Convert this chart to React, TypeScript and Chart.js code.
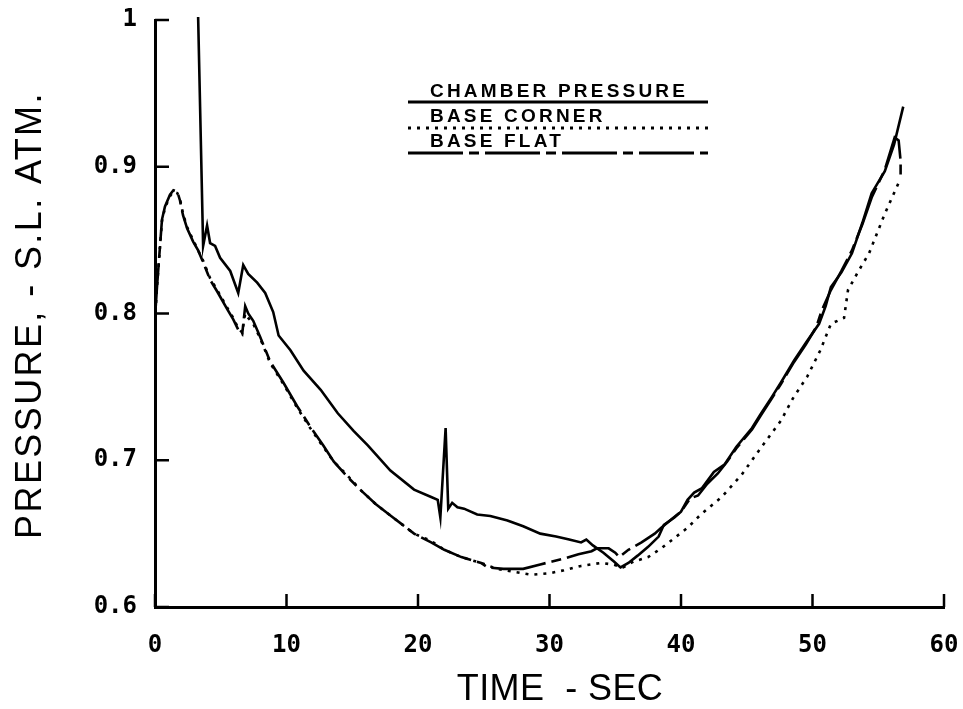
import React, { useEffect, useRef } from 'react';
import { Chart, registerables } from 'chart.js';

Chart.register(...registerables);

const seriesLabels = ['CHAMBER PRESSURE', 'BASE CORNER', 'BASE FLAT'];
const xTitle = 'TIME  - SEC';
const yTitle = 'PRESSURE, - S.L. ATM.';

const chamberTime = [
  3.28, 3.66, 3.96, 4.19, 4.57, 4.95, 5.72, 6.33, 6.71, 7.09, 7.77, 8.38, 8.99, 9.4,
  10.3, 11.3, 12.6, 13.9, 15.1, 16.2, 17.9, 19.7, 21.0, 21.5, 21.7, 22.1, 22.3, 22.6,
  23.0, 23.5, 24.5, 25.5, 26.8, 28.0, 29.3, 30.5, 31.5, 32.4, 32.8, 33.3, 34.1, 34.9,
  35.4, 36.0, 36.7, 37.5, 38.3, 38.7, 39.5, 40.0, 40.5, 41.0, 41.6, 42.5, 43.3, 44.2,
  45.4, 46.1, 46.9, 47.6, 48.6, 49.5, 50.5, 51.0, 51.4, 52.2, 53.0, 53.8, 54.5, 55.5,
  56.2, 56.9,
];
const chamberPressure = [
  1.002, 0.846, 0.86, 0.848, 0.846, 0.838, 0.829, 0.814, 0.833, 0.827, 0.821, 0.814, 0.801, 0.785,
  0.775, 0.761, 0.748, 0.732, 0.72, 0.71, 0.693, 0.68, 0.675, 0.673, 0.661, 0.722, 0.667, 0.671,
  0.668, 0.667, 0.663, 0.662, 0.659, 0.655, 0.65, 0.648, 0.646, 0.644, 0.646, 0.642, 0.637, 0.631,
  0.627, 0.63, 0.635, 0.641, 0.648, 0.656, 0.661, 0.665, 0.673, 0.678, 0.681, 0.692, 0.697, 0.709,
  0.722, 0.732, 0.743, 0.753, 0.768, 0.78, 0.793, 0.805, 0.818, 0.828, 0.841, 0.862, 0.882, 0.897,
  0.915, 0.941,
];

const cornerTime = [
  0, 0.15, 0.53, 0.76, 1.14, 1.4, 1.7, 1.9, 2.13, 2.44, 2.9, 3.28, 3.66, 4.19, 4.73, 5.49,
  5.95, 6.33, 6.63, 6.86, 7.09, 7.47, 8.0, 8.77, 9.76, 10.8, 11.8, 12.8, 13.6, 14.6, 15.6,
  16.8, 18.1, 19.7, 21.0, 22.0, 23.3, 24.8, 26.0, 27.3, 28.6, 30.0, 31.1, 32.4, 33.9, 34.8,
  35.6, 36.4, 37.5, 38.5, 39.5, 40.5, 41.5, 43.1, 44.6, 46.2, 47.6, 48.5, 49.6, 50.6, 51.4,
  52.4, 52.7, 53.5, 54.3, 55.5, 56.6,
];
const cornerPressure = [
  0.795, 0.818, 0.863, 0.872, 0.88, 0.883, 0.882, 0.878, 0.868, 0.859, 0.85, 0.843, 0.836, 0.824, 0.816, 0.804,
  0.797, 0.79, 0.787, 0.8, 0.797, 0.793, 0.783, 0.766, 0.752, 0.736, 0.722, 0.709, 0.699, 0.69, 0.68,
  0.67, 0.661, 0.65, 0.645, 0.639, 0.634, 0.63, 0.626, 0.624, 0.622, 0.623, 0.625, 0.628, 0.63, 0.629,
  0.627, 0.631, 0.634, 0.64, 0.647, 0.654, 0.663, 0.675, 0.69, 0.71, 0.727, 0.742, 0.757, 0.775, 0.793,
  0.797, 0.816, 0.829, 0.841, 0.868, 0.89,
];

const flatTime = [
  0, 0.15, 0.53, 0.76, 1.14, 1.4, 1.7, 1.9, 2.13, 2.44, 2.9, 3.28, 3.66, 4.19, 4.73, 5.49,
  5.95, 6.33, 6.63, 6.86, 7.09, 7.47, 8.0, 8.77, 9.76, 10.8, 11.8, 12.8, 13.6, 14.6, 15.6,
  16.8, 18.1, 19.7, 21.0, 22.0, 23.3, 24.8, 25.3, 26.5, 28.0, 29.3, 30.2, 31.1, 32.2, 33.2,
  33.6, 34.5, 35.0, 35.3, 36.0, 37.0, 38.0, 38.5, 39.3, 40.0, 40.7, 41.3, 42.0, 42.8, 43.5,
  44.2, 45.4, 46.1, 46.9, 47.6, 48.6, 49.5, 50.3, 50.7, 51.4, 52.2, 53.0, 53.8, 54.5, 55.5,
  56.25, 56.55, 56.7, 56.7,
];
const flatPressure = [
  0.797, 0.818, 0.864, 0.873, 0.881, 0.884, 0.883, 0.877, 0.867, 0.858, 0.849, 0.843, 0.835, 0.823, 0.815, 0.803,
  0.796, 0.789, 0.786, 0.805, 0.8, 0.795, 0.784, 0.767, 0.753, 0.737, 0.723, 0.71, 0.699, 0.689, 0.68,
  0.67, 0.661, 0.65, 0.644, 0.639, 0.634, 0.63, 0.627, 0.626, 0.626, 0.629, 0.631, 0.633, 0.636, 0.638,
  0.64, 0.64, 0.637, 0.634, 0.639, 0.644, 0.65, 0.654, 0.66, 0.665, 0.674, 0.676, 0.684, 0.691, 0.699,
  0.708, 0.721, 0.731, 0.742, 0.752, 0.767, 0.779, 0.791, 0.802, 0.816, 0.829, 0.843, 0.861, 0.879, 0.898,
  0.92, 0.918, 0.904, 0.892,
];

const xTickValues = [0, 10, 20, 30, 40, 50, 60];
const yTickValues = [0.6, 0.7, 0.8, 0.9, 1.0];

const seriesDashes: number[][] = [[], [3, 6], [55, 6, 10, 6]];

function toPoints(t: number[], p: number[]) {
  return t.map((x, i) => ({ x, y: p[i] }));
}

const inwardTicks = {
  id: 'inwardTicks',
  afterDraw(chart: any) {
    const { ctx, chartArea, scales } = chart;
    ctx.save();
    ctx.strokeStyle = '#000';
    ctx.lineWidth = 2.5;
    ctx.setLineDash([]);
    ctx.beginPath();
    for (const v of xTickValues) {
      const px = scales.x.getPixelForValue(v);
      ctx.moveTo(px, chartArea.bottom);
      ctx.lineTo(px, chartArea.bottom - 13);
    }
    for (const v of yTickValues) {
      const py = scales.y.getPixelForValue(v);
      ctx.moveTo(chartArea.left, py);
      ctx.lineTo(chartArea.left + 14, py);
    }
    ctx.stroke();
    ctx.restore();
  },
};

const axisTitles = {
  id: 'axisTitles',
  afterDraw(chart: any) {
    const { ctx } = chart;
    ctx.save();
    ctx.fillStyle = '#000';
    ctx.textBaseline = 'middle';
    ctx.textAlign = 'left';
    ctx.font = '36px "Liberation Sans", Arial, sans-serif';
    (ctx as any).letterSpacing = '0.4px';
    const wx = ctx.measureText(xTitle).width;
    ctx.fillText(xTitle, 560 - wx / 2, 690);
    (ctx as any).letterSpacing = '2.4px';
    const wy = ctx.measureText(yTitle).width;
    ctx.translate(31, 315);
    ctx.rotate(-Math.PI / 2);
    ctx.fillText(yTitle, -wy / 2, 0);
    ctx.restore();
  },
};

const customLegend = {
  id: 'customLegend',
  afterDraw(chart: any) {
    const { ctx } = chart;
    const datasets = chart.data.datasets;
    ctx.save();
    ctx.fillStyle = '#000';
    ctx.strokeStyle = '#000';
    ctx.font = 'bold 19px "Liberation Sans", Arial, sans-serif';
    (ctx as any).letterSpacing = '3.2px';
    ctx.textBaseline = 'alphabetic';
    ctx.textAlign = 'left';
    const x0 = 408;
    const x1 = 708;
    const textX = 430;
    const rows = [
      { textY: 97, lineY: 102 },
      { textY: 122, lineY: 128 },
      { textY: 147, lineY: 153 },
    ];
    datasets.forEach((ds: any, i: number) => {
      const r = rows[i];
      ctx.fillText(ds.label, textX, r.textY);
      ctx.lineWidth = 2.8;
      ctx.setLineDash(ds.borderDash || []);
      ctx.beginPath();
      ctx.moveTo(x0, r.lineY);
      ctx.lineTo(x1, r.lineY);
      ctx.stroke();
    });
    ctx.restore();
  },
};

export default function App() {
  const canvasRef = useRef<HTMLCanvasElement | null>(null);

  useEffect(() => {
    const canvas = canvasRef.current;
    if (!canvas) return;
    const tickFont = { family: '"DejaVu Sans Mono", monospace', size: 24, weight: 'bold' as const };
    const chart = new Chart(canvas, {
      type: 'line',
      data: {
        datasets: [
          {
            label: seriesLabels[0],
            data: toPoints(chamberTime, chamberPressure),
            borderColor: '#000',
            borderWidth: 2.6,
            borderDash: seriesDashes[0],
            pointRadius: 0,
            tension: 0,
            fill: false,
            clip: 4,
          },
          {
            label: seriesLabels[1],
            data: toPoints(cornerTime, cornerPressure),
            borderColor: '#000',
            borderWidth: 2.6,
            borderDash: seriesDashes[1],
            pointRadius: 0,
            tension: 0,
            fill: false,
          },
          {
            label: seriesLabels[2],
            data: toPoints(flatTime, flatPressure),
            borderColor: '#000',
            borderWidth: 2.6,
            borderDash: seriesDashes[2],
            pointRadius: 0,
            tension: 0,
            fill: false,
          },
        ],
      },
      options: {
        responsive: false,
        animation: false,
        devicePixelRatio: 1,
        events: [],
        layout: { padding: { left: 0, right: 19, top: 20, bottom: 0 } },
        plugins: {
          legend: { display: false },
          tooltip: { enabled: false },
        },
        scales: {
          x: {
            type: 'linear',
            min: 0,
            max: 60,
            afterFit: (scale: any) => {
              scale.height = 102;
              scale.paddingLeft = 0;
              scale.paddingRight = 0;
            },
            afterBuildTicks: (scale: any) => {
              scale.ticks = xTickValues.map((v) => ({ value: v }));
            },
            grid: { display: false, drawTicks: false, tickLength: 0 },
            border: { display: true, color: '#000', width: 3 },
            ticks: { color: '#000', font: tickFont, padding: 24, maxRotation: 0 },
            title: { display: false },
          },
          y: {
            type: 'linear',
            min: 0.6,
            max: 1.0,
            afterFit: (scale: any) => {
              scale.width = 155;
              scale.paddingTop = 0;
              scale.paddingBottom = 0;
            },
            afterBuildTicks: (scale: any) => {
              scale.ticks = yTickValues.map((v) => ({ value: v }));
            },
            grid: { display: false, drawTicks: false, tickLength: 0 },
            border: { display: true, color: '#000', width: 3 },
            ticks: {
              color: '#000',
              font: tickFont,
              padding: 18,
              callback: (v: any) => String(Math.round(Number(v) * 10) / 10),
            },
            title: { display: false },
          },
        },
      } as any,
      plugins: [inwardTicks, axisTitles, customLegend],
    });
    return () => chart.destroy();
  }, []);

  return (
    <canvas
      ref={canvasRef}
      width={963}
      height={709}
      style={{ position: 'absolute', left: 0, top: 0, width: 963, height: 709, display: 'block', background: '#fff' }}
    />
  );
}
